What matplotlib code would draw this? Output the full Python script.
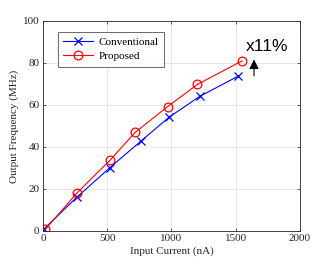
import matplotlib
matplotlib.use("Agg")
import matplotlib.pyplot as plt

conv_x = [8, 262, 521, 764, 979, 1220, 1521]
conv_y = [1.0, 16.0, 30.2, 42.9, 54.1, 64.1, 73.8]
prop_x = [18, 264, 523, 718, 969, 1202, 1549]
prop_y = [0.8, 18.1, 33.8, 47.0, 59.2, 69.8, 81.0]
labels = ["Conventional", "Proposed"]

plt.rcParams['font.family'] = ['Liberation Serif', 'DejaVu Serif']
fig = plt.figure(figsize=(3.32, 2.67), dpi=100)
ax = fig.add_axes([43/332, 1-231/267, 257/332, 210/267])

ax.plot(conv_x, conv_y, color='#0000ff', lw=0.8, marker='x', ms=6, mew=0.9, label=labels[0])
ax.plot(prop_x, prop_y, color='#ff0000', lw=0.8, marker='o', ms=6.3, mew=0.9,
        mfc='none', label=labels[1])

ax.set_xlim(0, 2000)
ax.set_ylim(0, 100)
ax.set_xticks([0, 500, 1000, 1500, 2000])
ax.set_yticks([0, 20, 40, 60, 80, 100])
ax.tick_params(direction='in', labelsize=8, length=2.5, width=0.5, top=True, right=True,
               colors='#262626', pad=2.5)
ax.grid(True, color='#e3e3e3', lw=0.6)
ax.set_axisbelow(True)
for s in ax.spines.values():
    s.set_color('#262626')
    s.set_linewidth(0.6)
ax.set_xlabel('Input Current (nA)', fontsize=8, color='#262626', labelpad=2)
ax.set_ylabel('Output Frequency (MHz)', fontsize=8, color='#262626', labelpad=3)

leg = ax.legend(loc='upper left', bbox_to_anchor=(0.057, 0.949), borderaxespad=0,
                fontsize=8, frameon=True,
                fancybox=False, edgecolor='#262626', handlelength=2.7,
                borderpad=0.5, labelspacing=0.4, handletextpad=0.45)
leg.get_frame().set_linewidth(0.6)

ax.annotate('', xy=(1642, 83), xytext=(1642, 72.5),
            arrowprops=dict(arrowstyle='-|>', color='black', lw=0.8,
                            mutation_scale=14))
ax.text(1578, 85.5, 'x11%', fontsize=12.5, family=['Liberation Sans'], color='black',
        ha='left', va='baseline')

fig.savefig('out.png', dpi=100)
